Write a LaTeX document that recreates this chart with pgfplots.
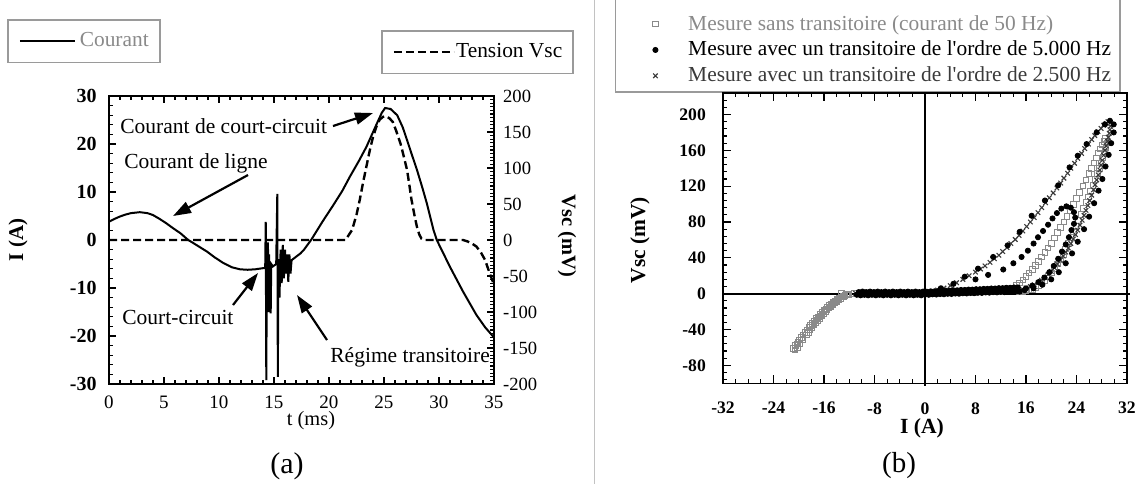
\documentclass[border=0pt]{standalone}
\usepackage{fontspec}
\setmainfont{Liberation Serif}
\usepackage{pgfplots}
\pgfplotsset{compat=1.18}
\usetikzlibrary{arrows.meta}
\definecolor{lgray}{HTML}{8A8A8A}
\definecolor{dgray}{HTML}{3A3A3A}
\definecolor{boxgray}{HTML}{9A9A9A}
\newcommand{\fA}{\fontsize{10.75}{12.9}\selectfont}
\begin{document}
\begin{tikzpicture}
\useasboundingbox (0pt,0pt) rectangle (568.5pt,-242pt);
\draw[boxgray!60, line width=0.5pt] (297pt,0pt) -- (297pt,-242pt);
% ================= panel (a), left axis =================
\begin{axis}[at={(54.5pt,-192pt)}, anchor=south west, width=192.5pt, height=144pt, scale only axis,
 xmin=0, xmax=35, ymin=-30, ymax=30,
 xtick={0,5,...,35}, minor xtick={0,1,...,35},
 ytick={-30,-20,...,30}, minor ytick={-30,-28,...,30},
 ytick pos=left, tick align=inside,
 major tick length=3.5pt, minor tick length=2pt,
 axis line style={line width=0.8pt}, every tick/.style={black, line width=0.6pt},
 /pgf/number format/assume math mode=true,
 xticklabel style={font=\fontsize{9.5}{11}\selectfont, inner sep=0pt, yshift=-5.6pt},
 yticklabel style={font=\fontsize{10}{12}\selectfont\bfseries, inner sep=0pt, xshift=-6pt},
 legend style={at={(-0.2649,1.2674)}, anchor=north west, draw=boxgray, line width=0.8pt,
   inner xsep=5.5pt, inner ysep=4pt, nodes={inner xsep=0pt, inner ysep=2.35pt},
   font=\fontsize{10.7}{12.8}\selectfont, /tikz/every odd column/.append style={column sep=2pt}},
 legend image code/.code={\draw[#1] (0pt,0pt) -- (27.5pt,0pt);},
]
\addplot[black, line width=1pt] coordinates {
(0,3.8)(0.5,4.4)(1,4.9)(1.5,5.3)(2,5.6)(2.8,5.8)(3.5,5.6)(4,5.2)(4.6,4.4)(5.2,3.5)(5.8,2.5)(6.5,1.4)
(7.2,0)(7.5,-0.4)(8.2,-1.4)(8.9,-2.4)(9.6,-3.6)(10.4,-4.8)(11.2,-5.7)(11.9,-6.1)(12.6,-6.2)(13.3,-6.1)
(13.9,-5.9)(14.2,-5.8)(14.25,3.8)(14.3,-29.2)(14.35,-5)(14.45,-0.5)(14.5,-15)(14.55,-3)(14.6,-14)
(14.65,-6)(14.7,-15.3)(14.75,-5)(14.9,-5.5)(15.2,-5)(15.3,9.6)(15.35,-28.5)(15.4,-4)(15.5,-12)
(15.6,-2)(15.7,-9)(15.8,-1)(15.9,-8)(16.0,-2)(16.1,-7)(16.2,-3)(16.3,-8.7)(16.4,-3)(16.5,-7)
(16.6,-4.2)(17,-3.5)(17.4,-2.8)(17.7,-2.1)(18.4,0.1)(19.4,3.8)(20.4,7.3)(21.2,10.2)(21.9,13.2)
(22.7,16.4)(23.4,19.4)(24.3,24)(24.8,26.5)(25.1,27.5)(25.6,27.3)(26.2,26)(26.7,23.5)(27.1,20.8)
(27.5,18)(28,14.6)(28.5,10.8)(28.9,7.6)(29.5,2.1)(29.8,0)(30.4,-2.8)(31,-5.6)(31.6,-8.2)(32.2,-10.8)
(32.8,-13.2)(33.4,-15.6)(34.2,-18.2)(35,-20.3)};
\addlegendentry[text=lgray]{Courant}
\end{axis}
% ================= panel (a), right axis =================
\begin{axis}[at={(54.5pt,-192pt)}, anchor=south west, width=192.5pt, height=144pt, scale only axis,
 xmin=0, xmax=35, ymin=-200, ymax=200,
 axis x line=none, axis y line*=right,
 ytick={-200,-150,...,200}, minor ytick={-200,-195,...,200},
 tick align=inside, major tick length=3.5pt, minor tick length=2pt,
 axis line style={line width=0.8pt}, every tick/.style={black, line width=0.6pt},
 /pgf/number format/assume math mode=true,
 yticklabel style={font=\fontsize{9.3}{11}\selectfont, inner sep=0pt, xshift=4.4pt},
 legend style={at={(0.7065,1.2292)}, anchor=north west, draw=boxgray, line width=0.8pt,
   inner xsep=5.5pt, inner ysep=4pt, nodes={inner xsep=0pt, inner ysep=2.35pt},
   font=\fontsize{10.7}{12.8}\selectfont, /tikz/every odd column/.append style={column sep=0.5pt}},
 legend image code/.code={\draw[#1] (0pt,0pt) -- (30pt,0pt);},
]
\addplot[black, line width=1.2pt, dash pattern=on 4pt off 2pt] coordinates {
(0,0)(21.5,0)(22.1,14)(22.5,35)(22.8,56)(23.1,80)(23.4,102)(23.7,124)(24,143)(24.3,157)(24.6,167)
(24.9,171)(25.2,172)(25.5,169)(25.8,164)(26.1,152)(26.5,134)(26.8,116)(27.1,97)(27.3,77)(27.5,56)
(27.8,32)(28,18)(28.2,8)(28.4,2)(28.6,0)(32.2,0)(32.6,-2)(33,-5)(33.4,-9)(33.8,-17)(34.2,-28)
(34.6,-46)(34.9,-58)(35,-62)};
\addlegendentry{Tension Vsc}
\end{axis}
% annotations (a)
\begin{scope}[every node/.style={inner sep=0pt, font=\fA}, arr/.style={line width=1.1pt, -{Triangle[length=9pt,width=6pt]}}]
\node[anchor=west] at (60pt,-63pt) {Courant de court-circuit};
\draw[arr] (166.5pt,-63pt) -- (186.5pt,-56.5pt);
\node[anchor=west] at (62pt,-81.5pt) {Courant de ligne};
\draw[arr] (124pt,-87.5pt) -- (86.5pt,-108pt);
\node[anchor=west] at (61pt,-158.5pt) {Court-circuit};
\draw[arr] (116.5pt,-152.5pt) -- (129pt,-136.5pt);
\node[anchor=west] at (165pt,-178.5pt) {Régime transitoire};
\draw[arr] (163.5pt,-170pt) -- (148.5pt,-147.5pt);
\end{scope}
\node[inner sep=0pt, rotate=90, font=\fontsize{10.5}{12}\selectfont\bfseries] at (9pt,-120pt) {I (A)};
\node[inner sep=0pt, rotate=-90, font=\fontsize{10.2}{12}\selectfont\bfseries] at (283.5pt,-118pt) {Vsc (mV)};
\node[inner sep=0pt, font=\fontsize{10.2}{12}\selectfont] at (155.5pt,-210.5pt) {t (ms)};
\node[inner sep=0pt, font=\fontsize{15}{18}\selectfont] at (143.5pt,-233pt) {(a)};
% ================= panel (b) =================
\draw[boxgray, line width=0.8pt] (307.75pt,5pt) -- (307.75pt,-46pt) -- (560pt,-46pt) -- (560pt,5pt);
\begin{axis}[at={(361.5pt,-191.65pt)}, anchor=south west, width=202pt, height=145.15pt, scale only axis,
 xmin=-32, xmax=32, ymin=-100, ymax=224, clip=false,
 xtick={-32,-24,...,32}, minor xtick={-32,-30,...,32},
 ytick={-80,-40,...,200}, minor ytick={-96,-88,...,216},
 tick align=inside, major tick length=4pt, minor tick length=2pt,
 axis line style={line width=0.8pt}, every tick/.style={black, line width=0.6pt},
 /pgf/number format/assume math mode=true,
 xticklabel style={font=\fontsize{8.8}{10.5}\selectfont\bfseries, inner sep=0pt, yshift=-9.3pt},
 yticklabel style={font=\fontsize{8.8}{10.5}\selectfont\bfseries, inner sep=0pt, xshift=-8.4pt},
 legend cell align=left,
 legend style={at={(-0.19,1.297)}, anchor=north west, draw=none, fill=none,
   font=\fontsize{10.7}{12.8}\selectfont, inner xsep=3pt, inner ysep=2pt, nodes={inner sep=2pt},
   /tikz/every odd column/.append style={column sep=13pt}},
]
\addplot[black, line width=1.2pt, forget plot] coordinates {(-32,0)(32.5,0)};
\addplot[black, line width=1.2pt, forget plot] coordinates {(0,-103)(0,224)};
% 50 Hz squares
\addplot[only marks, mark=square, mark size=1.4pt, lgray, line width=0.5pt] coordinates {
(-12.4,-1)(-12.7,-1.8)(-13.0,-2.5)(-13.3,-3.7)(-13.6,-5)(-13.9,-6.5)(-14.2,-8)(-14.5,-9.8)(-14.8,-11.5)
(-15.1,-13.2)(-15.4,-15)(-15.7,-17)(-16.0,-19)(-16.3,-21.2)(-16.6,-23.5)(-16.9,-25.8)(-17.2,-28)
(-17.5,-30.5)(-17.8,-33)(-18.1,-35.5)(-18.4,-38)(-18.7,-40.7)(-19.0,-43.5)(-19.3,-46.2)(-19.6,-49)
(-19.85,-51.5)(-20.1,-54)(-20.3,-56)(-20.5,-58)(-20.8,-61)(-20.6,-63)
(-20.2,-60)(-19.8,-56)(-19.3,-51)(-18.8,-46)(-18.5,-43.2)(-18.2,-40.5)(-17.9,-37.7)(-17.6,-35)(-17.3,-32.5)
(-17.0,-30)(-16.7,-27.5)(-16.4,-25)(-16.1,-22.5)(-15.8,-20)(-15.5,-18)(-15.2,-16)(-14.9,-14)(-14.6,-12)
(-14.3,-10.2)(-14.0,-8.5)(-13.7,-7)(-13.4,-5.5)(-12.8,-3)(-12.1,-1.5)
(-13.2,0.5)(-12.2,-0.5)(-11.2,0.3)(-10.2,-0.3)(-9.2,0.4)(-8.2,-0.2)(-7.2,0.5)(-6.2,0)(-5.2,0.6)(-4.2,0.1)
(-3.2,0.7)(-2.2,0.2)(-1.2,0.8)(-0.2,0.3)(0.8,1)(1.8,0.6)(2.8,1.2)(3.8,0.9)(4.8,1.5)(5.8,1.2)(6.8,1.8)
(7.8,1.5)(8.8,2.1)(9.8,1.9)(10.8,2.5)(11.8,2.4)(12.8,3)(13.6,3.5)
(14,6)(14.5,9)(15,12)(15.5,15.5)(16,19)(16.5,23)(17,27)(17.5,31.5)(18,36)(18.5,41)(19,46)(19.5,51)
(20,56)(20.5,62)(21,68)(21.5,74)(22,80)(22.5,86.5)(23,93)(23.5,99.5)(24,106)(24.5,113)(25,120)
(25.5,127)(26,134)(26.4,140)(26.8,146)(27.2,151.5)(27.5,157)(27.8,161.5)(28.1,166)(28.4,170)(28.6,173)
(28.9,168)(28.7,163)(28.5,158)(28.2,152)(27.9,146)(27.6,140)(27.3,134)(26.95,127.5)(26.6,121)
(26.25,114.5)(25.9,108)(25.5,101.5)(25.1,95)(24.7,88.5)(24.3,82)(23.9,75.5)(23.5,69)(23.1,62.5)
(22.7,56)(22.3,50)(21.9,44)(21.45,38.5)(21,33)(20.5,28)(20,23)(19.5,19)(19,15)(18.5,12)(18,9)(17.5,7)
(17,5)(16.5,4)(16,3)(15.5,2.5)(15,2)};
\addlegendentry[text=lgray]{Mesure sans transitoire (courant de 50 Hz)}
% 2.5 kHz crosses
\addplot[only marks, mark=x, mark size=1.6pt, dgray, line width=0.55pt, forget plot] coordinates {
(-11,0.5)(-10,0)(-9,0.6)(-8,0)(-7,0.7)(-6,0.1)(-5,0.8)(-4,0.2)(-3,0.9)(-2,0.3)(-1,1)(0,0.5)(1,1.2)
(2,0.8)(3,1.5)(4,1.2)(5,2)(6,1.7)(7,2.5)(8,2.2)(9,3)(10,2.8)(11,3.5)(12,3.3)(13,4)
(0.5,1.5)(1.3,2.5)(2,4)(3,6.3)(4,9)(5,12.3)(6,16)(7,20)(8,24)(8.8,27.5)(9.5,31)(10.3,35)(11,39)
(11.7,43)(12.3,47)(13,51.5)(13.6,56)(14.3,60.5)(14.9,65)(15.5,70)(16.1,75)(16.7,80)(17.3,85)
(17.9,90.5)(18.5,96)(19.1,101.5)(19.7,107)(20.3,112.5)(20.9,118)(21.5,123.5)(22,129)(22.6,134.5)
(23.1,140)(23.7,145.5)(24.2,151)(24.8,156.5)(25.3,162)(25.9,167)(26.4,172)(26.9,176.5)(27.4,181)
(27.9,184.5)(28.3,188)(28.7,190)(29,192)
(29.4,187)(29.3,183)(29.2,179)(29.05,174.5)(28.9,170)(28.7,165)(28.5,160)(28.3,154.5)(28.1,149)
(27.9,143.5)(27.7,138)(27.45,132.5)(27.2,127)(26.95,121.5)(26.7,116)(26.4,110)(26.1,104)(25.8,98.5)
(25.5,93)(25.2,87.5)(24.9,82)(24.55,76.5)(24.2,71)(23.85,66)(23.5,61)(23.1,56)(22.7,51)(22.3,46.5)
(21.9,42)(21.45,37.5)(21,33)(20.5,29)(20,25)(19.5,21.5)(19,18)(18.45,15)(17.9,12)(17.3,10)(16.7,8)
(16,6.5)(15.4,5)(14.7,4)(14,3)};
% 5 kHz dots
\addplot[only marks, mark=*, mark size=1.3pt, black] coordinates {
(-10.8,-1.2)(-10.2,-1.8)(-9.6,-1.2)(-9.0,-1.8)(-8.4,-1.2)(-7.8,-1.8)(-7.2,-1.2)(-6.6,-1.8)(-6.0,-1.2)
(-5.4,-1.8)(-4.8,-1.2)(-4.2,-1.8)(-3.6,-1.2)(-3.0,-1.8)(-2.4,-1.2)(-1.8,-1.8)(-1.2,-1.2)(-0.6,-1.8)
(0,-1)(0.6,-1.2)(1.2,-0.7)(1.8,-0.9)(2.4,-0.4)(3.0,-0.6)(3.6,-0.1)(4.2,-0.3)(4.8,0.2)(5.4,0)(6.0,0.5)
(6.6,0.3)(7.2,0.8)(7.8,0.6)(8.4,1.1)(9.0,0.9)(9.6,1.4)(10.2,1.2)(10.8,1.7)(11.4,1.5)(12.0,2)(12.6,1.8)
(13.2,2.3)(13.8,2.1)(14.4,2.6)(15.0,2.4)
(-10.5,1.8)(-9.9,2.4)(-9.3,1.8)(-8.7,2.4)(-8.1,1.8)(-7.5,2.4)(-6.9,1.8)(-6.3,2.4)(-5.7,1.8)(-5.1,2.4)
(-4.5,1.8)(-3.9,2.4)(-3.3,1.8)(-2.7,2.4)(-2.1,1.8)(-1.5,2.4)(-0.9,1.8)(-0.3,2.4)(0.3,2.2)(0.9,2.6)
(1.5,2.6)(2.1,3)(2.7,3)(3.3,3.4)(3.9,3.4)(4.5,3.8)(5.1,3.8)(5.7,4.2)(6.3,4.2)(6.9,4.6)(7.5,4.6)(8.1,5)
(8.7,5)(9.3,5.4)(9.9,5.4)(10.5,5.8)(11.1,5.8)(11.7,6.2)(12.3,6.2)(12.9,6.6)(13.5,6.6)(14.1,7)(14.7,7)
(2.5,6)(4.5,11)(6.3,19)(8.4,28)(10.8,41)(13.1,54)(15,69)(16.9,87)(19,104)(21.1,121)(22.9,141)
(24.2,154)(25.6,167)(27.2,180)(28.5,189)(29.3,193)(29.9,189)(29.9,180)(29.5,168)(29.1,155)(28.6,142)
(28.1,128)(27.5,115)(26.8,101)(26.0,86)(25.2,72)(24.2,58)(23.3,45)(22.3,34)(21.2,24)(20.0,16)
(18.6,10)(17.2,6)(15.8,4)
(8,16)(10,21)(12.4,27)(14,34)(15.3,41)(16.3,48)(17.2,56)(17.9,63)(18.7,70)(19.5,77)(20.2,84)(20.9,90)
(21.6,95)(22.4,97.5)(23.1,96)(23.6,91)(23.8,85)(23.6,78)(23.2,71)(22.8,63)(22.3,55)(21.7,47)(21.1,39)
(20.4,31)(19.7,24)(18.9,18)(18.0,13)(17.0,9)(16,6)};
\addlegendentry{Mesure avec un transitoire de l\textquotesingle ordre de 5.000 Hz}
\addlegendimage{only marks, mark=x, mark size=1.6pt, dgray, line width=0.55pt}
\addlegendentry[text=dgray]{Mesure avec un transitoire de l\textquotesingle ordre de 2.500 Hz}
\end{axis}
\node[inner sep=0pt, rotate=90, font=\fontsize{10.7}{12}\selectfont\bfseries] at (320pt,-120pt) {Vsc (mV)};
\node[inner sep=0pt, font=\fontsize{10.8}{12}\selectfont\bfseries] at (461pt,-214pt) {I (A)};
\node[inner sep=0pt, font=\fontsize{14.5}{17}\selectfont] at (449.5pt,-233pt) {(b)};
\end{tikzpicture}
\end{document}
